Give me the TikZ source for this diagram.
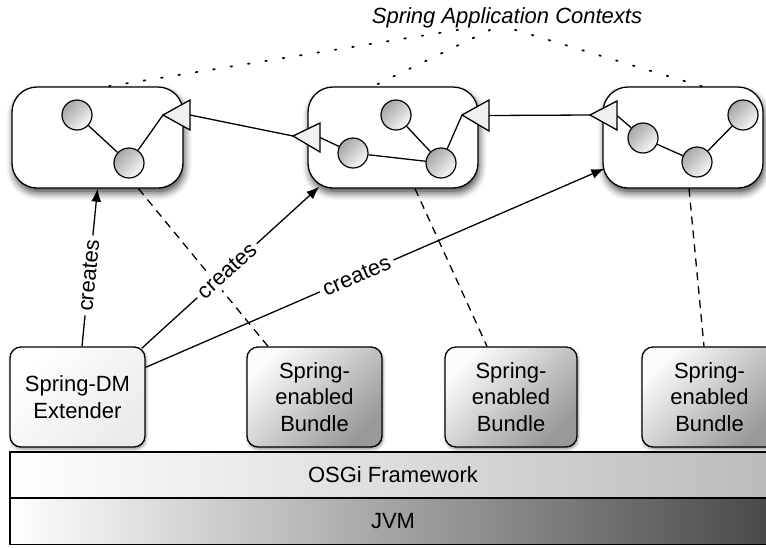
\documentclass[tikz,border=0pt]{standalone}
\usepackage{fontspec}
\setmainfont{Liberation Sans}
\usetikzlibrary{arrows.meta,calc,shadows.blur}
\begin{document}
\begin{tikzpicture}[x=1pt,y=-1pt,line width=1.3pt,
  every node/.style={font=\fontsize{22}{26.5}\selectfont},
  ctx/.style={draw, fill=white, rounded corners=25pt, minimum height=101pt, inner sep=0pt,
    blur shadow={shadow xshift=1.5pt, shadow yshift=-5pt, shadow blur radius=7pt, shadow opacity=70}},
  bean/.style={circle, draw, line width=1.2pt, minimum size=30pt, inner sep=0pt,
    top color=black!35, bottom color=gray!5, shading angle=45},
  svc/.style={draw, fill=gray!12, line width=1.3pt, line join=miter},
  link/.style={line width=1.3pt},
  bundle/.style={draw, rounded corners=11pt, minimum width=135pt, minimum height=100pt,
    align=center, top color=gray!3, bottom color=black!40, shading angle=45,
    blur shadow={shadow xshift=1pt, shadow yshift=-2pt, shadow blur radius=3pt, shadow opacity=45}},
  bar/.style={draw, minimum width=766pt, minimum height=46pt, inner sep=0pt},
  crt/.style={-{Latex[length=13pt,width=10pt]}, line width=1.3pt},
  lab/.style={sloped, fill=white, inner sep=4pt},
  dep/.style={dash pattern=on 8pt off 6pt, line width=1.3pt},
  ctxlink/.style={dash pattern=on 1.6pt off 16pt, line width=1.8pt, line cap=round}
]
\useasboundingbox (0,0) rectangle (766,547);

% context boxes
\node[ctx, minimum width=171pt] (ctx1) at (97.5,137.5) {};
\node[ctx, minimum width=170pt] (ctx2) at (393,137.5) {};
\node[ctx, minimum width=160pt] (ctx3) at (683,137.5) {};

% bars
\node[bar, left color=white, right color=black!27] (osgi) at (393,475) {OSGi Framework};
\node[bar, left color=white, right color=black!72] (jvm) at (393,521.5) {JVM};

% bundles
\node[bundle, top color=white, bottom color=gray!16, shading angle=45] (ext) at (77.5,397) {Spring-DM\\Extender};
\node[bundle] (b1) at (314.5,397) {Spring-\\enabled\\Bundle};
\node[bundle, minimum width=132pt] (b2) at (511,397) {Spring-\\enabled\\Bundle};
\node[bundle] (b3) at (709.5,397) {Spring-\\enabled\\Bundle};

% beans
\node[bean] (c1a) at (77,115) {};
\node[bean] (c1b) at (129,163) {};
\node[bean] (c2t) at (396,115) {};
\node[bean] (c2a) at (353,153) {};
\node[bean] (c2c) at (441,163) {};
\node[bean] (c3a) at (643,138) {};
\node[bean] (c3b) at (697,162) {};
\node[bean] (c3c) at (743,115) {};

% service triangles (tips and base middles)
\coordinate (t1) at (163,115); \coordinate (t1b) at (190,115);
\coordinate (t2) at (293,136); \coordinate (t2b) at (320,137.5);
\coordinate (t3) at (462,115); \coordinate (t3b) at (489,115.5);
\coordinate (t4) at (590,115); \coordinate (t4b) at (617,115.5);

% wiring inside / between contexts
\draw[link] (c1a) -- (c1b);
\draw[link] (c1b) -- (t1);
\draw[link] (t1b) -- (t2);
\draw[link] (c2t) -- (c2c);
\draw[link] (c2a) -- (c2c);
\draw[link] (c2c) -- (t3);
\draw[link] (c2a) -- (t2b);
\draw[link] (t3b) -- (t4);
\draw[link] (c3a) -- (t4b);
\draw[link] (c3a) -- (c3b);
\draw[link] (c3b) -- (c3c);

\draw[svc] (t1) -- ++(27,-15) -- ++(0,30) -- cycle;
\draw[svc] (t2) -- ++(27,-13) -- ++(0,29) -- cycle;
\draw[svc] (t3) -- ++(27,-15) -- ++(0,31) -- cycle;
\draw[svc] (t4) -- ++(27,-14) -- ++(0,29) -- cycle;

% label and dotted pointers
\node[font=\itshape\fontsize{22}{26}\selectfont, inner sep=0pt] (lbl) at (507,18) {Spring Application Contexts};
\draw[ctxlink] ($(lbl.south)+(-49,1)$) -- ($(ctx1.north)+(10.5,0)$);
\draw[ctxlink] ($(lbl.south)+(-17,1)$) -- ($(ctx2.north)+(-20,0)$);
\draw[ctxlink] ($(lbl.south)+(8,1)$) -- ($(ctx3.north)+(19,0)$);

% dashed bundle-context relations
\draw[dep] ($(ctx1.south)+(41,0)$) -- ($(b1.north)+(-46.5,0)$);
\draw[dep] ($(ctx2.south)+(22,0)$) -- ($(b2.north)+(-24,0)$);
\draw[dep] ($(ctx3.south)+(6,0)$) -- ($(b3.north)+(-5.5,0)$);

% creates arrows
\draw[crt] ($(ext.north)+(4.5,0)$) -- node[lab, pos=0.45]{creates} (ctx1.south);
\draw[crt] ($(ext.north east)+(-4,2)$) -- node[lab, pos=0.48]{creates} ($(ctx2.south west)+(12,-2)$);
\draw[crt] ($(ext.north east)+(0,21)$) -- node[lab, pos=0.46]{creates} ($(ctx3.south west)+(2,-20)$);
\end{tikzpicture}
\end{document}
